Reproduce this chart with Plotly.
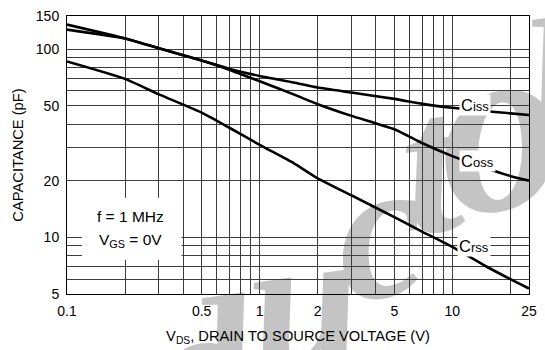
import math
import plotly.graph_objects as go

# ---- data ----
V_DS = [0.1, 0.2, 0.3, 0.5, 0.7, 1, 1.5, 2, 3, 5, 7, 10, 15, 20, 25]
C_ISS = [135, 114, 101, 87, 78.5, 72, 66.5, 62.5, 58.8, 54.4, 51.2, 48.8, 46.8, 45.6, 44.7]
C_OSS = [127, 114, 101, 87, 77.5, 67.5, 57.5, 51, 44.2, 37.5, 31.6, 27.0, 23.3, 21.2, 20]
C_RSS = [86, 69.5, 57.5, 46, 38.1, 31, 24.8, 20.6, 16.7, 12.8, 10.7, 8.9, 7.0, 6.0, 5.35]

X_TICK_LABELS = {0.1: "0.1", 0.5: "0.5", 1: "1", 2: "2", 5: "5", 10: "10", 25: "25"}
Y_TICK_LABELS = {5: "5", 10: "10", 20: "20", 50: "50", 100: "100", 150: "150"}
X_GRID = [0.2, 0.3, 0.4, 0.5, 0.6, 0.7, 0.8, 0.9, 1, 2, 3, 4, 5, 6, 7, 8, 9, 10, 20]
Y_GRID = [6, 7, 8, 9, 10, 20, 30, 40, 50, 60, 70, 80, 90, 100]

# label text, label position (V, pF)
SERIES = [("Ciss", C_ISS, 13.1, 48.5), ("Coss", C_OSS, 13.55, 24.6), ("Crss", C_RSS, 12.9, 8.64)]

FONT = "Liberation Sans, Arial, sans-serif"

fig = go.Figure()
for name, vals, _, _ in SERIES:
    fig.add_trace(go.Scatter(x=V_DS, y=vals, mode="lines", name=name,
                             line=dict(color="black", width=2.6, shape="spline", smoothing=0.5),
                             showlegend=False, hoverinfo="skip"))

def ticks(grid, labels):
    vals = sorted(set(grid) | set(labels))
    return vals, [labels.get(v, "") for v in vals]

xv, xt = ticks(X_GRID, X_TICK_LABELS)
yv, yt = ticks(Y_GRID, Y_TICK_LABELS)

axis_common = dict(type="log", showgrid=True, gridcolor="#3c3c3c", gridwidth=1,
                   showline=True, linecolor="black", linewidth=1, mirror=True,
                   ticks="", zeroline=False,
                   tickfont=dict(family=FONT, size=14, color="black"))

fig.update_layout(
    width=545, height=350,
    margin=dict(l=67, r=14, t=8, b=56),
    paper_bgcolor="white", plot_bgcolor="rgba(0,0,0,0)",
    xaxis=dict(axis_common, range=[math.log10(0.1), math.log10(25)],
               tickmode="array", tickvals=xv, ticktext=xt, ticklabelstandoff=4,
               title=dict(text="V<sub>DS</sub>, DRAIN TO SOURCE VOLTAGE (V)",
                          font=dict(family=FONT, size=14.7, color="black"), standoff=12)),
    yaxis=dict(axis_common, range=[math.log10(5), math.log10(150)],
               tickmode="array", tickvals=yv, ticktext=yt, ticklabelstandoff=4,
               title=dict(text="CAPACITANCE (pF)",
                          font=dict(family=FONT, size=14.7, color="black"), standoff=8)),
)

# curve labels with white background breaking the line
for name, _, lx, ly in SERIES:
    fig.add_annotation(x=math.log10(lx), y=math.log10(ly), xref="x", yref="y",
                       xanchor="center", yanchor="middle", yshift=3,
                       text="<span style='font-size:16.5px'>C</span>" + name[1:],
                       showarrow=False, bgcolor="white", borderpad=1,
                       font=dict(family=FONT, size=13, color="black"))

# condition box (plot-area fractions)
fig.add_shape(type="rect", xref="paper", yref="paper", x0=0.0323, x1=0.2478, y0=0.1224, y1=0.3462,
              fillcolor="white", line=dict(width=0), layer="above")
fig.add_annotation(x=0.138, y=0.2797, xref="paper", yref="paper", xanchor="center", yanchor="middle",
                   text="f = 1 MHz", showarrow=False,
                   font=dict(family=FONT, size=15.5, color="black"))
fig.add_annotation(x=0.138, y=0.192, xref="paper", yref="paper", xanchor="center", yanchor="middle",
                   text="V<sub>GS</sub> = 0V", showarrow=False,
                   font=dict(family=FONT, size=15.5, color="black"))

# watermark letters (behind grid and curves): char, centre x, centre y (page pixels), size
WATERMARK = [("d", 200, 350, 200), ("u", 302, 278, 200), ("c", 378, 205, 200),
             ("t", 428, 138, 200), ("o", 497, 92, 250), ("r", 565, 10, 200)]
L, T, W, H = 67, 8, 464, 286
for ch, px, py, sz in WATERMARK:
    xp = (px - L) / W
    yp = (T + H - py) / H
    fig.add_shape(type="rect", xref="paper", yref="paper", x0=xp - 0.002, x1=xp + 0.002,
                  y0=yp - 0.002, y1=yp + 0.002,
                  line=dict(width=0), fillcolor="rgba(0,0,0,0)", layer="below",
                  label=dict(text="<b><i>" + ch + "</i></b>", textangle=-8, textposition="middle center",
                             font=dict(family="Liberation Serif, Times New Roman, serif", size=sz,
                                       color="#c4c4c4")))

fig.write_html("out.html")
